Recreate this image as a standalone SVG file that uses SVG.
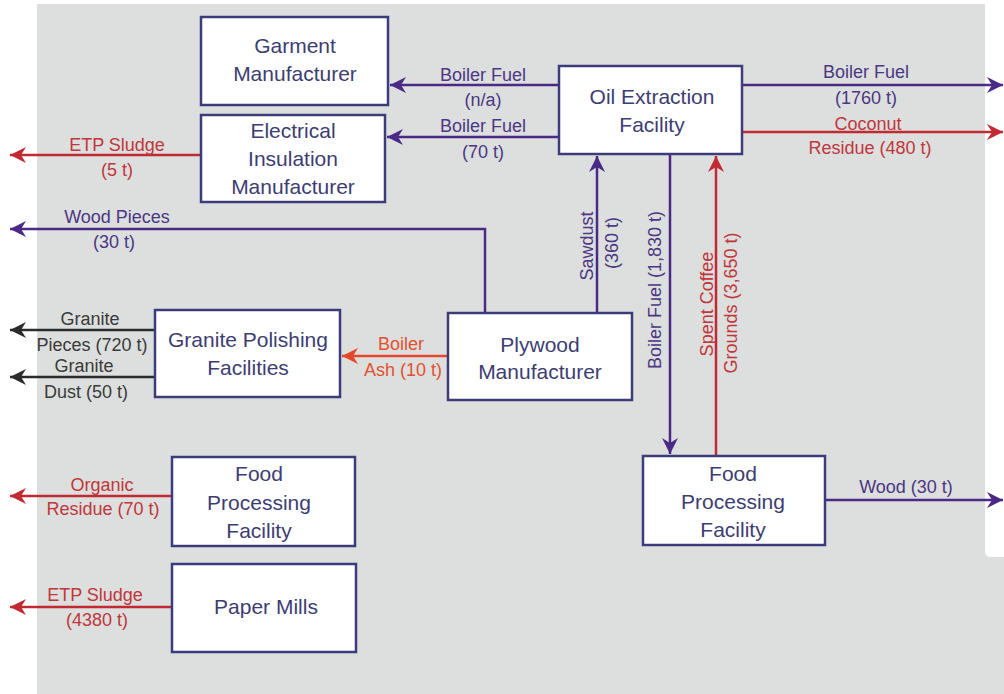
<svg xmlns="http://www.w3.org/2000/svg" width="1004" height="694" viewBox="0 0 1004 694">
<defs>
<style>
.box{fill:#fff;stroke:#3c3c7c;stroke-width:2.5}
.nt{font-family:"Liberation Sans",Arial,sans-serif;font-size:21px;fill:#3d3d72;text-anchor:middle}
.lb{font-family:"Liberation Sans",Arial,sans-serif;font-size:18px;text-anchor:middle}
.lp{fill:#4b3784}.lr{fill:#c1363c}.lo{fill:#e4502f}.lk{fill:#3a3a3a}
.c{fill:none;stroke-width:2.5}
.p{stroke:#4a2a86;marker-end:url(#ap)}
.r{stroke:#c22a33;marker-end:url(#ar)}
.o{stroke:#e5472c;marker-end:url(#ao)}
.k{stroke:#2b2b2b;marker-end:url(#ak)}
</style>
<marker id="ap" markerUnits="userSpaceOnUse" markerWidth="18" markerHeight="16" refX="16" refY="8" orient="auto"><path d="M0,0 L16,8 L0,16 L5,8 z" fill="#4a2a86"/></marker>
<marker id="ar" markerUnits="userSpaceOnUse" markerWidth="18" markerHeight="16" refX="16" refY="8" orient="auto"><path d="M0,0 L16,8 L0,16 L5,8 z" fill="#c22a33"/></marker>
<marker id="ao" markerUnits="userSpaceOnUse" markerWidth="18" markerHeight="16" refX="16" refY="8" orient="auto"><path d="M0,0 L16,8 L0,16 L5,8 z" fill="#e5472c"/></marker>
<marker id="ak" markerUnits="userSpaceOnUse" markerWidth="18" markerHeight="16" refX="16" refY="8" orient="auto"><path d="M0,0 L16,8 L0,16 L5,8 z" fill="#2b2b2b"/></marker>
</defs>
<rect x="0" y="0" width="1004" height="694" fill="#fff"/>
<rect x="37" y="4" width="967" height="690" fill="#dcdfdd"/>
<path d="M985,0 H1004 V557 H991 Q985,557 985,551 Z" fill="#fff"/>

<g id="connectors">
<line class="c p" x1="559" y1="85" x2="390" y2="85"/>
<line class="c p" x1="559" y1="137" x2="387" y2="137"/>
<line class="c p" x1="742" y1="85" x2="1003" y2="85"/>
<line class="c r" x1="742" y1="132" x2="1003" y2="132"/>
<line class="c r" x1="201" y1="155" x2="10" y2="155"/>
<path class="c p" d="M485,313 V229 H10"/>
<line class="c p" x1="597" y1="313" x2="597" y2="156"/>
<line class="c p" x1="670" y1="154" x2="670" y2="454"/>
<line class="c r" x1="716" y1="456" x2="716" y2="156"/>
<line class="c k" x1="155" y1="330" x2="10" y2="330"/>
<line class="c k" x1="155" y1="377" x2="10" y2="377"/>
<line class="c o" x1="448" y1="356" x2="342" y2="356"/>
<line class="c r" x1="172" y1="496" x2="10" y2="496"/>
<line class="c r" x1="172" y1="607" x2="10" y2="607"/>
<line class="c p" x1="825" y1="500" x2="1003" y2="500"/>

<text class="lb lp" x="483" y="81">Boiler Fuel</text>
<text class="lb lp" x="483" y="106">(n/a)</text>
<text class="lb lp" x="483" y="132">Boiler Fuel</text>
<text class="lb lp" x="483" y="158">(70 t)</text>
<text class="lb lp" x="866" y="78">Boiler Fuel</text>
<text class="lb lp" x="866" y="104">(1760 t)</text>
<text class="lb lr" x="868" y="130">Coconut</text>
<text class="lb lr" x="870" y="154">Residue (480 t)</text>
<text class="lb lr" x="117" y="151">ETP Sludge</text>
<text class="lb lr" x="117" y="176">(5 t)</text>
<text class="lb lp" x="117" y="223">Wood Pieces</text>
<text class="lb lp" x="114" y="248">(30 t)</text>
<text class="lb lp" transform="translate(587,246) rotate(-90)" dominant-baseline="central">Sawdust</text>
<text class="lb lp" transform="translate(612,243) rotate(-90)" dominant-baseline="central">(360 t)</text>
<text class="lb lp" transform="translate(655,290) rotate(-90)" dominant-baseline="central">Boiler Fuel (1,830 t)</text>
<text class="lb lr" transform="translate(707,304) rotate(-90)" dominant-baseline="central">Spent Coffee</text>
<text class="lb lr" transform="translate(731,303) rotate(-90)" dominant-baseline="central">Grounds (3,650 t)</text>
<text class="lb lk" x="90" y="325">Granite</text>
<text class="lb lk" x="92" y="351">Pieces (720 t)</text>
<text class="lb lk" x="84" y="372">Granite</text>
<text class="lb lk" x="86" y="398">Dust (50 t)</text>
<text class="lb lo" x="401" y="350">Boiler</text>
<text class="lb lo" x="403" y="376">Ash (10 t)</text>
<text class="lb lr" x="102" y="491">Organic</text>
<text class="lb lr" x="103" y="515">Residue (70 t)</text>
<text class="lb lr" x="95" y="601">ETP Sludge</text>
<text class="lb lr" x="97" y="626">(4380 t)</text>
<text class="lb lp" x="906" y="493">Wood (30 t)</text>
</g>

<g id="garment">
<rect class="box" x="201" y="17" width="187" height="88"/>
<text class="nt" x="295" y="53">Garment</text>
<text class="nt" x="295" y="81">Manufacturer</text>
</g>
<g id="electrical">
<rect class="box" x="201" y="115" width="184" height="87"/>
<text class="nt" x="293" y="138">Electrical</text>
<text class="nt" x="293" y="166">Insulation</text>
<text class="nt" x="293" y="194">Manufacturer</text>
</g>
<g id="oil">
<rect class="box" x="559" y="66" width="183" height="88"/>
<text class="nt" x="652" y="104">Oil Extraction</text>
<text class="nt" x="652" y="132">Facility</text>
</g>
<g id="granite">
<rect class="box" x="155" y="310" width="185" height="87"/>
<text class="nt" x="248" y="347">Granite Polishing</text>
<text class="nt" x="248" y="375">Facilities</text>
</g>
<g id="plywood">
<rect class="box" x="448" y="313" width="184" height="87"/>
<text class="nt" x="540" y="352">Plywood</text>
<text class="nt" x="540" y="379">Manufacturer</text>
</g>
<g id="food-right">
<rect class="box" x="643" y="456" width="182" height="89"/>
<text class="nt" x="733" y="481">Food</text>
<text class="nt" x="733" y="509">Processing</text>
<text class="nt" x="733" y="537">Facility</text>
</g>
<g id="food-left">
<rect class="box" x="172" y="457" width="183" height="89"/>
<text class="nt" x="259" y="481">Food</text>
<text class="nt" x="259" y="510">Processing</text>
<text class="nt" x="259" y="538">Facility</text>
</g>
<g id="paper">
<rect class="box" x="172" y="564" width="184" height="88"/>
<text class="nt" x="266" y="614">Paper Mills</text>
</g>
</svg>
